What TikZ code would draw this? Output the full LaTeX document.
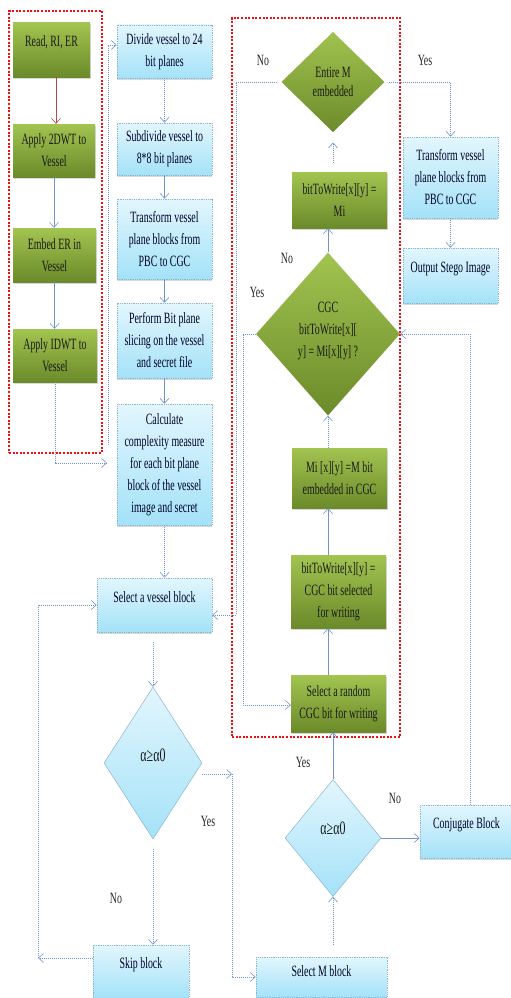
\documentclass[tikz,border=0pt]{standalone}
\usepackage{fontspec}
\setmainfont{Liberation Serif}[FakeStretch=0.63]
\usetikzlibrary{arrows.meta,shapes.geometric,shadows,calc}
\definecolor{gtop}{HTML}{A2C450}
\definecolor{gbot}{HTML}{6B8A2A}
\definecolor{btop}{HTML}{E2F6FD}
\definecolor{bbot}{HTML}{A4E2F8}
\definecolor{bline}{HTML}{6F93CC}
\definecolor{bedge}{HTML}{8DB3D1}
\definecolor{rdash}{HTML}{F01010}
\definecolor{darkred}{HTML}{B24A4A}
\begin{document}
\begin{tikzpicture}[x=1pt,y=-1pt,
  font=\fontsize{15.7}{22}\selectfont,
  gbox/.style={rectangle, top color=gtop, bottom color=gbot, draw=none, text=black!90,
    align=center, inner sep=2pt,
    drop shadow={shadow xshift=1pt,shadow yshift=-1.5pt,opacity=.3}},
  bbox/.style={rectangle, top color=btop, bottom color=bbot, draw=bedge, line width=.6pt,
    dash pattern=on 1pt off .8pt, text=black!85!blue, align=center, inner sep=2pt,
    drop shadow={shadow xshift=0pt,shadow yshift=-2pt,opacity=.3}},
  raisetext/.style={text height=11pt, text depth=#1},
  gdiam/.style={diamond, top color=gtop, bottom color=gbot, draw=none, inner sep=0pt},
  bdiam/.style={diamond, top color=btop, bottom color=bbot, draw=bedge, line width=.5pt, inner sep=0pt},
  txt/.style={align=center, inner sep=0pt, text=black!90},
  lab/.style={inner sep=0pt, text=black!85},
  arr/.style={draw=bline, line width=.6pt, -{Straight Barb[length=5pt,width=9pt]}},
  darr/.style={arr, dash pattern=on 1pt off 1pt},
  rbox/.style={rectangle, draw=rdash, line width=2.8pt, dash pattern=on 2pt off 1.6pt, inner sep=0pt}
]
\useasboundingbox (0,0) rectangle (511,998);

% left column (green)
\node[gbox, minimum width=77pt, minimum height=54pt, raisetext=17pt] (read) at (51.5,50) {Read, RI, ER};
\node[gbox, minimum width=82pt, minimum height=53pt] (dwt) at (54,150.5) {Apply 2DWT to\\Vessel};
\node[gbox, minimum width=83pt, minimum height=54pt] (emb) at (54.5,255) {Embed ER in\\Vessel};
\node[gbox, minimum width=84pt, minimum height=53pt] (idwt) at (55,355.5) {Apply IDWT to\\Vessel};

% middle column (blue)
\node[bbox, minimum width=95pt, minimum height=53pt] (divide) at (164.5,51.5) {Divide vessel to 24\\bit planes};
\node[bbox, minimum width=95pt, minimum height=52pt] (subdiv) at (164.5,149) {Subdivide vessel to\\8*8 bit planes};
\node[bbox, minimum width=95pt, minimum height=80pt] (transfA) at (164.5,239) {Transform vessel\\plane blocks from\\PBC to CGC};
\node[bbox, minimum width=95pt, minimum height=75pt] (perform) at (164.5,340.5) {Perform Bit plane\\slicing on the vessel\\and secret file};
\node[bbox, minimum width=95pt, minimum height=121pt] (calc) at (164.5,464.5) {Calculate\\complexity measure\\for each bit plane\\block of the vessel\\image and secret};
\node[bbox, minimum width=115pt, minimum height=54pt, raisetext=17pt] (selv) at (154.5,605) {Select a vessel block};
\node[bbox, minimum width=96pt, minimum height=53pt, raisetext=17pt] (skip) at (141,971.5) {Skip block};
\node[bdiam, minimum width=98pt, minimum height=152pt] (dA) at (153,763) {};
\node[txt, font=\fontsize{19}{22}\selectfont] (dAt) at (153,755) {α≥α0};

% right group (green)
\node[gdiam, minimum width=109pt, minimum height=106pt, draw=white, line width=3pt,
  drop shadow={shadow xshift=0pt,shadow yshift=-1pt,opacity=.25}] (entire) at (333,82) {};
\node[txt, font=\fontsize{15.7}{19}\selectfont] (entiret) at (333,82) {Entire M\\embedded};
\node[gbox, minimum width=95pt, minimum height=56pt] (bmi) at (339.5,200) {bitToWrite[x][y] =\\Mi};
\node[gdiam, minimum width=144pt, minimum height=163pt] (cgcd) at (328,334) {};
\node[txt] (cgct) at (328,331) {CGC\\bitToWrite[x][\\y] = Mi[x][y] ?};
\node[gbox, minimum width=95pt, minimum height=60pt] (mibit) at (339.5,478) {Mi [x][y] =M bit\\embedded in CGC};
\node[gbox, minimum width=95pt, minimum height=73pt] (bcgc) at (338.5,591.5) {bitToWrite[x][y] =\\CGC bit selected\\for writing};
\node[gbox, minimum width=95pt, minimum height=57pt] (random) at (338.5,703.5) {Select a random\\CGC bit for writing};

% right column (blue)
\node[bbox, minimum width=95pt, minimum height=81pt] (transfB) at (450.5,177.5) {Transform vessel\\plane blocks from\\PBC to CGC};
\node[bbox, minimum width=95pt, minimum height=55pt, raisetext=17pt] (out) at (450.5,275.5) {Output Stego Image};
\node[bdiam, minimum width=96pt, minimum height=117pt] (dB) at (333,838) {};
\node[txt, font=\fontsize{19}{22}\selectfont] (dBt) at (333,828) {α≥α0};
\node[bbox, minimum width=93pt, minimum height=53pt, raisetext=18pt] (conj) at (466.5,831.5) {Conjugate Block};
\node[bbox, minimum width=131pt, minimum height=40pt, raisetext=12pt] (selM) at (321.5,977) {Select M block};

% group frames
\node[rbox, minimum width=93pt, minimum height=442pt] (grpL) at (55.5,232) {};
\node[rbox, minimum width=168pt, minimum height=719pt] (grpR) at (316,377.5) {};

% coordinates for free ends / bends
\coordinate (c1) at (107,463);
\coordinate (c2) at (108,445);
\coordinate (j1) at (232,774);
\coordinate (k1) at (38,958);
\coordinate (e1) at (236,615);
\coordinate (f1) at (243,705);

% left column connectors
\draw[arr, draw=darkred] ([xshift=4.5pt]read.south) -- ([xshift=4.5pt]read.south |- dwt.north);
\draw[arr] (dwt.south) -- (dwt.south |- emb.north);
\draw[arr] (emb.south) -- (emb.south |- idwt.north);
\draw[darr] (idwt.south) |- (c1);
\draw[darr] (c2) |- ([yshift=6.5pt]divide.west);

% middle connectors
\draw[darr] (divide.south) -- (divide.south |- subdiv.north);
\draw[arr] (subdiv.south) -- (subdiv.south |- transfA.north);
\draw[arr] (transfA.south) -- (transfA.south |- perform.north);
\draw[arr] (perform.south) -- (perform.south |- calc.north);
\draw[darr] (calc.south) -- (calc.south |- selv.north);
\draw[darr] ($(selv.south -| dA.north)+(0,10)$) -- (dA.north);
\draw[darr] ($(dA.east)+(0,11)$) -- (j1);
\draw[darr] (j1) |- (selM.west);
\draw[darr] ($(dA.south)+(0,10)$) -- (dA.south |- skip.north);
\draw[darr] ($(skip.west)+(0,-13.5)$) -- (k1);
\draw[darr] (k1) |- (selv.west);

% right connectors
\draw[darr] ($(selM.north -| dB.south)+(0,-12)$) -- (dB.south);
\draw[arr] (dB.north) -- (dB.north |- random.south);
\draw[arr] (dB.east) -- (dB.east -| conj.west);
\draw[darr] ([xshift=4pt]conj.north) |- (cgcd.east);
\draw[arr] (random.north -| cgcd.south) -- (bcgc.south -| cgcd.south);
\draw[arr] (bcgc.north -| cgcd.south) -- (mibit.south -| cgcd.south);
\draw[darr] (mibit.north -| cgcd.south) -- (cgcd.south);
\draw[arr] (cgcd.north) -- (cgcd.north |- bmi.south);
\draw[darr] ($(bmi.north -| entire.south)+(0,-9)$) -- ($(entire.south)+(0,6)$);
\draw[darr] (entire.east) -| (transfB.north);
\draw[darr] (transfB.south) -- (transfB.south |- out.north);
\draw[darr] (entire.west) -| (e1) -- (e1 -| selv.east);
\draw[darr] (cgcd.west) -| (f1) -- (f1 -| random.west);

% branch labels
\node[lab] (l1) at (263,60) {No};
\node[lab] (l2) at (425,60) {Yes};
\node[lab] (l3) at (287,258) {No};
\node[lab] (l4) at (257,292) {Yes};
\node[lab] (l5) at (208,821) {Yes};
\node[lab] (l6) at (116,898) {No};
\node[lab] (l7) at (303,762) {Yes};
\node[lab] (l8) at (395,798) {No};
\end{tikzpicture}
\end{document}
